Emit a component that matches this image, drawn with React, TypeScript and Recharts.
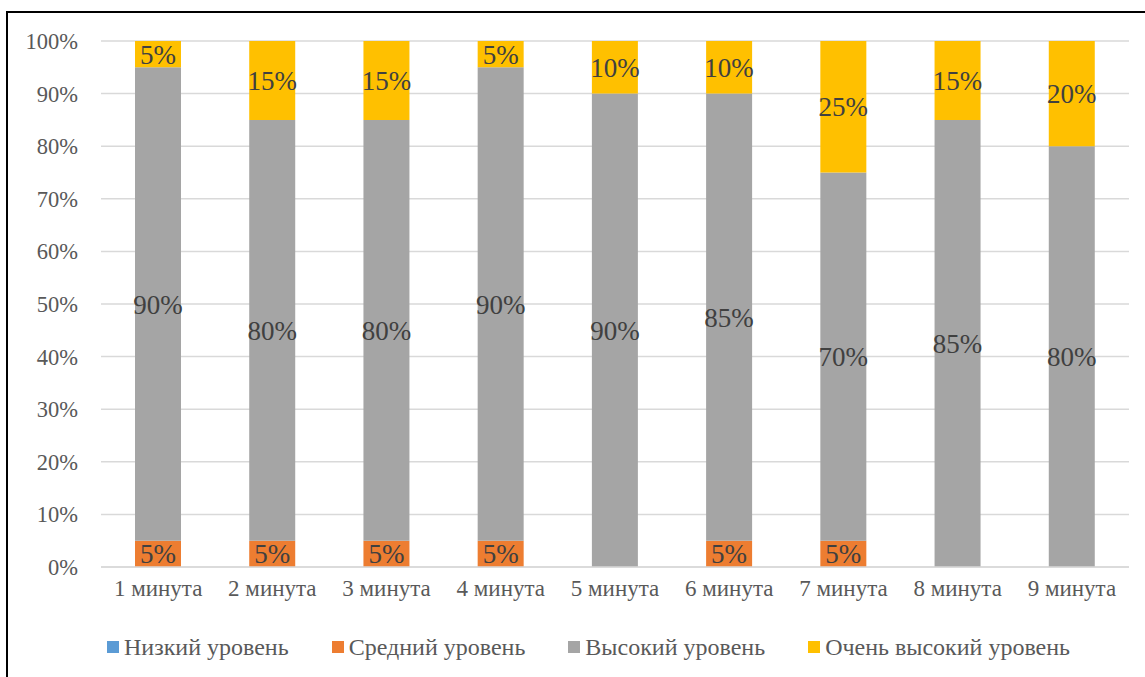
import React from 'react';
import { BarChart, Bar, XAxis, YAxis, CartesianGrid, Legend, LabelList } from 'recharts';

const categories = ['1 минута', '2 минута', '3 минута', '4 минута', '5 минута', '6 минута', '7 минута', '8 минута', '9 минута'];
const lowLevel = [0, 0, 0, 0, 0, 0, 0, 0, 0];
const mediumLevel = [5, 5, 5, 5, 0, 5, 5, 0, 0];
const highLevel = [90, 80, 80, 90, 90, 85, 70, 85, 80];
const veryHighLevel = [5, 15, 15, 5, 10, 10, 25, 15, 20];
const yTicks = [0, 10, 20, 30, 40, 50, 60, 70, 80, 90, 100];

const seriesNames = ['Низкий уровень', 'Средний уровень', 'Высокий уровень', 'Очень высокий уровень'];
const seriesColors = ['#5B9BD5', '#ED7D31', '#A5A5A5', '#FFC000'];

const data = categories.map((c, i) => ({
  name: c,
  low: lowLevel[i],
  medium: mediumLevel[i],
  high: highLevel[i],
  veryHigh: veryHighLevel[i],
}));

const FONT = 'Liberation Serif';

const fmt = (v: any) => (v ? `${v}%` : '');

const LegendContent = () => (
  <div style={{ display: 'flex', alignItems: 'center', height: 26, paddingLeft: 107, fontFamily: FONT, fontSize: 24, color: '#595959', whiteSpace: 'nowrap' }}>
    {seriesNames.map((n, i) => (
      <div key={n} style={{ display: 'flex', alignItems: 'center', marginRight: 43 }}>
        <span style={{ display: 'inline-block', width: 12, height: 12, background: seriesColors[i], marginRight: 5 }} />
        <span>{n}</span>
      </div>
    ))}
  </div>
);

const keys = ['low', 'medium', 'high', 'veryHigh'];

export default function App() {
  return (
    <div style={{ position: 'absolute', left: 0, top: 0, width: 1145, height: 677, overflow: 'hidden', background: '#fff' }}>
      <div style={{ position: 'absolute', left: 6, top: 11, width: 1300, height: 900, borderTop: '2px solid #000', borderLeft: '2px solid #000', boxSizing: 'border-box' }} />
      <div style={{ position: 'absolute', left: 0, top: 0 }}>
        <BarChart width={1145} height={677} data={data} margin={{ top: 41, right: 16, left: 0, bottom: 50 }} barSize={46}>
          <CartesianGrid vertical={false} stroke="#D9D9D9" strokeWidth={1.5} />
          <XAxis
            dataKey="name"
            height={60}
            tickLine={false}
            tickSize={0}
            tickMargin={13}
            axisLine={{ stroke: '#D9D9D9', strokeWidth: 1.5 }}
            tick={{ fill: '#595959', fontSize: 23, fontFamily: FONT }}
            interval={0}
          />
          <YAxis
            width={101}
            domain={[0, 100]}
            ticks={yTicks}
            tickFormatter={(v: number) => `${v}%`}
            tickLine={false}
            tickSize={0}
            tickMargin={23}
            axisLine={false}
            tick={{ fill: '#595959', fontSize: 22.5, fontFamily: FONT }}
            interval={0}
          />
          <Legend
            verticalAlign="middle"
            align="center"
            layout="horizontal"
            wrapperStyle={{ top: 634, left: 0, width: 1145, height: 26 }}
            content={() => <LegendContent />}
          />
          {keys.map((k, i) => (
            <Bar key={k} dataKey={k} name={seriesNames[i]} stackId="a" fill={seriesColors[i]} isAnimationActive={false}>
              <LabelList
                dataKey={k}
                position="center"
                formatter={fmt}
                fill="#404040"
                fontSize={27}
                fontFamily={FONT}
              />
            </Bar>
          ))}
        </BarChart>
      </div>
    </div>
  );
}
